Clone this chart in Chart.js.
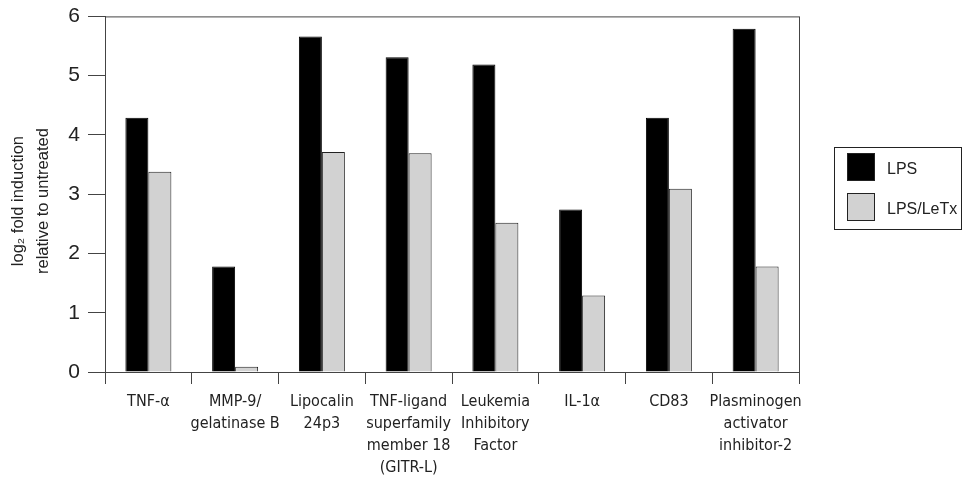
<!DOCTYPE html>
<html>
<head>
<meta charset="utf-8">
<script src="https://cdn.jsdelivr.net/npm/chart.js@4.4.1/dist/chart.umd.min.js"></script>
<style>
  html, body { margin: 0; padding: 0; background: #fff; }
  #wrap { width: 962px; height: 484px; position: relative; }
</style>
</head>
<body>
<div id="wrap"><canvas id="chart"></canvas></div>
<script>
const categories = [
    ['TNF-\u03b1'],
    ['MMP-9/', 'gelatinase B'],
    ['Lipocalin', '24p3'],
    ['TNF-ligand', 'superfamily', 'member 18', '(GITR-L)'],
    ['Leukemia', 'Inhibitory', 'Factor'],
    ['IL-1\u03b1'],
    ['CD83'],
    ['Plasminogen', 'activator', 'inhibitor-2']
];
const lpsValues = [4.29, 1.78, 5.66, 5.31, 5.19, 2.74, 4.29, 5.79];
const letxValues = [3.38, 0.09, 3.71, 3.69, 2.52, 1.29, 3.09, 1.78];
const yTicks = [0, 1, 2, 3, 4, 5, 6];
const yTitle = ['log\u2082 fold induction   ', 'relative to untreated   '];

const axisColor = '#444';
const narrow = '"DejaVu Sans Condensed", "Liberation Sans", Arial, sans-serif';
const sans = '"Liberation Sans", Arial, sans-serif';

// box around the plot area and the legend at the right
const frame = {
    id: 'frame',
    afterDraw(chart) {
        const ctx = chart.ctx;
        const a = chart.chartArea;
        ctx.save();
        ctx.strokeStyle = axisColor;
        ctx.lineWidth = 1;
        ctx.strokeRect(a.left + 0.5, a.top + 0.5, a.right - a.left, a.bottom - a.top);

        const lx = 834, ly = 147, lw = 127, lh = 82;
        ctx.strokeStyle = '#222';
        ctx.strokeRect(lx + 0.5, ly + 0.5, lw, lh);
        ctx.font = '16px ' + sans;
        ctx.textBaseline = 'middle';
        chart.data.datasets.forEach((ds, i) => {
            const sy = 153 + i * 40;
            ctx.fillStyle = ds.backgroundColor;
            ctx.fillRect(847, sy, 28, 28);
            ctx.strokeStyle = '#222';
            ctx.strokeRect(847.5, sy + 0.5, 27, 27);
            ctx.fillStyle = '#222';
            ctx.fillText(ds.label, 887, sy + 17);
        });
        ctx.restore();
    }
};

new Chart(document.getElementById('chart'), {
    type: 'bar',
    data: {
        labels: categories,
        datasets: [{
            label: 'LPS',
            data: lpsValues,
            backgroundColor: '#000',
            borderColor: '#000',
            borderWidth: 1
        }, {
            label: 'LPS/LeTx',
            data: letxValues,
            backgroundColor: '#d2d2d2',
            borderColor: '#222',
            borderWidth: 1
        }]
    },
    options: {
        responsive: true,
        maintainAspectRatio: false,
        animation: false,
        layout: { padding: { left: 0, top: 15, right: 163, bottom: 0 } },
        datasets: { bar: { barPercentage: 1, categoryPercentage: 0.53 } },
        plugins: {
            legend: { display: false },
            tooltip: { enabled: false }
        },
        scales: {
            x: {
                grid: {
                    offset: true,
                    drawOnChartArea: false,
                    drawTicks: true,
                    tickLength: 12,
                    color: axisColor
                },
                border: { display: true, color: axisColor },
                ticks: {
                    color: '#222',
                    maxRotation: 0,
                    autoSkip: false,
                    padding: 7,
                    font: { family: narrow, size: 16, lineHeight: 1.38 }
                },
                afterFit(axis) { axis.height = 112; }
            },
            y: {
                min: 0,
                max: 6,
                afterBuildTicks(axis) { axis.ticks = yTicks.map(v => ({ value: v })); },
                grid: {
                    drawOnChartArea: false,
                    drawTicks: true,
                    tickLength: 17,
                    color: axisColor
                },
                border: { display: true, color: axisColor },
                ticks: {
                    color: '#222',
                    padding: 8,
                    font: { family: sans, size: 21, lineHeight: 0.8 }
                },
                title: {
                    display: true,
                    text: yTitle,
                    color: '#222',
                    padding: { top: 6, bottom: 0 },
                    font: { family: sans, size: 16.5, lineHeight: 1.5 }
                },
                afterFit(axis) { axis.width = 105; }
            }
        }
    },
    plugins: [frame]
});
</script>
</body>
</html>
